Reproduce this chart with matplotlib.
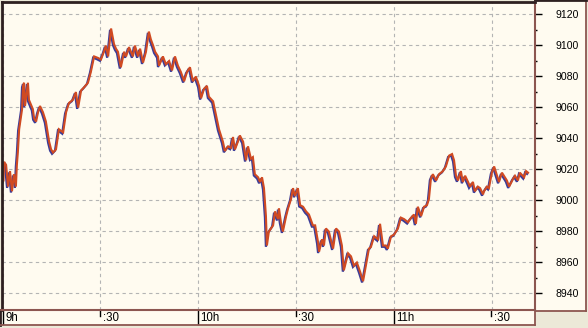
import matplotlib
matplotlib.use('Agg')
import matplotlib.pyplot as plt
from matplotlib.transforms import offset_copy

# ---- data (minutes after 9:00, price) ----
minutes = [0.0, 0.2, 0.8, 1.4, 2.0, 2.6, 3.2, 3.8, 4.1, 4.4, 4.8, 5.7, 6.0, 6.3, 6.6, 7.5, 7.8,
           9.0, 9.4, 10.0, 10.6, 11.2, 12.1, 13.0, 14.0, 14.6, 15.2, 16.1, 17.0, 18.3, 19.2,
           20.1, 21.3, 22.2, 22.9, 23.8, 24.7, 25.9, 26.8, 27.8, 29.0, 29.9, 30.8, 31.4, 32.1,
           33.0, 33.9, 34.5, 35.1, 36.0, 37.0, 37.6, 38.5, 39.7, 40.3, 41.3, 41.9, 42.8, 43.7,
           44.6, 45.2, 45.9, 46.5, 47.4, 47.7, 48.9, 49.8, 50.8, 51.7, 52.6, 53.5, 54.4, 55.4,
           56.3, 57.2, 58.1, 59.0, 60.0, 60.6, 61.5, 62.4, 63.0, 64.3, 65.2, 66.1, 67.3, 67.9,
           68.9, 69.8, 70.4, 71.0, 71.9, 72.5, 73.5, 74.4, 75.0, 75.9, 76.5, 77.1, 78.1, 78.7,
           79.3, 79.9, 80.5, 80.8, 81.4, 82.7, 83.3, 84.2, 84.5, 85.1, 85.7, 86.7, 87.3, 88.2,
           88.8, 89.4, 90.3, 91.0, 91.9, 92.8, 93.7, 94.9, 95.6, 96.5, 96.8, 97.7, 98.3, 98.9,
           99.8, 101.1, 102.0, 102.9, 103.8, 104.4, 105.7, 106.6, 107.5, 108.4, 109.4, 110.3,
           110.9, 111.5, 112.1, 112.7, 113.7, 114.9, 115.5, 116.4, 117.3, 117.9, 118.9, 119.8,
           121.0, 121.9, 122.9, 124.1, 124.7, 125.9, 126.5, 127.1, 128.1, 129.0, 129.9, 130.5,
           131.1, 131.7, 132.7, 133.6, 134.8, 135.7, 136.7, 137.6, 138.2, 138.8, 139.4, 140.3,
           140.9, 141.6, 142.5, 143.1, 144.0, 144.6, 145.5, 146.2, 147.1, 147.4, 148.3, 148.9,
           149.8, 150.5, 151.4, 152.0, 152.9, 153.5, 154.4, 155.1, 156.3, 156.9, 157.8, 158.4,
           159.7, 160.3, 160.9]
prices = [9012, 9024, 9022, 9008, 9018, 9005, 9016, 9008, 9022, 9030, 9045, 9058, 9073, 9075, 9060, 9075, 9064,
          9058, 9052, 9050, 9056, 9060, 9056, 9050, 9037, 9032, 9030, 9032, 9045, 9043, 9056,
          9062, 9064, 9069, 9059, 9070, 9072, 9075, 9082, 9092, 9091, 9090, 9095, 9099, 9092,
          9110, 9100, 9097, 9095, 9085, 9095, 9092, 9098, 9092, 9099, 9092, 9097, 9088, 9095,
          9108, 9103, 9099, 9095, 9092, 9086, 9092, 9087, 9089, 9083, 9092, 9086, 9082, 9076,
          9082, 9085, 9076, 9079, 9073, 9065, 9071, 9073, 9066, 9063, 9054, 9045, 9037, 9031,
          9034, 9033, 9040, 9032, 9037, 9041, 9037, 9025, 9034, 9026, 9027, 9016, 9014, 9011,
          9014, 9007, 8989, 8970, 8979, 8983, 8992, 8987, 8994, 8985, 8979, 8989, 8994, 9000,
          9007, 9002, 9007, 8996, 8995, 8992, 8990, 8983, 8983, 8972, 8966, 8974, 8970, 8981,
          8979, 8968, 8981, 8979, 8970, 8954, 8965, 8963, 8957, 8959, 8953, 8947,
          8954, 8961, 8968, 8969, 8976, 8974, 8984, 8970, 8970, 8968, 8976, 8977,
          8981, 8988, 8987, 8985, 8987, 8990, 8984, 8995, 8989, 8995, 8996, 9000,
          9013, 9016, 9012, 9016, 9018, 9021, 9028, 9029, 9025, 9015, 9012, 9018,
          9011, 9015, 9011, 9008, 9011, 9005, 9008, 9007, 9003, 9005, 9008, 9007,
          9017, 9021, 9015, 9011, 9017, 9015, 9012, 9008, 9013, 9015, 9012, 9017,
          9014, 9018, 9017]

y_ticks = [8940, 8960, 8980, 9000, 9020, 9040, 9060, 9080, 9100, 9120]
y_minor = [8950, 8970, 8990, 9010, 9030, 9050, 9070, 9090, 9110]
x_tick_pos = [0, 30, 60, 90, 120, 150]
x_tick_labels = ['9h', ':30', '10h', ':30', '11h', ':30']

# ---- style ----
W, H = 588, 328
CREAM = '#FFFBF0'
BROWN = '#8C5650'
DARK = '#2E2020'
BLUE = '#3C3C98'
RED = '#D04A22'
plt.rcParams['font.family'] = ['Liberation Sans', 'DejaVu Sans']

fig = plt.figure(figsize=(W / 100, H / 100), dpi=100)
fig.patch.set_facecolor('#ECE9D8')


def fx(px):
    return px / W


def fy(py):
    return 1 - py / H


def m_of(px):
    return (px - 2.5) * 30 / 97.8


def p_of(py):
    return 9120 - (py - 14.3) * 20 / 31


# right value panel
panel = fig.add_axes([fx(535), fy(311), fx(586) - fx(535), fy(0) - fy(311)])
panel.set_facecolor(CREAM)
panel.set_xticks([])
panel.set_yticks([])
for s in panel.spines.values():
    s.set_color(BROWN)
    s.set_linewidth(1.3)
panel.spines['top'].set_color(DARK)
panel.spines['top'].set_linewidth(2)

# time strip
strip = fig.add_axes([fx(0), fy(325), fx(535) - fx(0), fy(310) - fy(325)])
strip.set_facecolor(CREAM)
strip.set_xlim(m_of(0), m_of(535))
strip.set_ylim(0, 1)
strip.set_xticks([])
strip.set_yticks([])
for s in strip.spines.values():
    s.set_color(BROWN)
    s.set_linewidth(1.3)
strip.spines['left'].set_color(DARK)
strip.spines['left'].set_linewidth(2)
for pos, lab in zip(x_tick_pos, x_tick_labels):
    if lab.endswith('h'):
        strip.axvline(pos, 0, 1, color='black', lw=1)
    else:
        strip.axvline(pos, 0.62, 1, color='black', lw=1)
    strip.annotate(lab, (pos, 0.45), xycoords=('data', 'axes fraction'),
                   xytext=(1.8, 0), textcoords='offset points',
                   ha='left', va='center', fontsize=8.3, color='black')

# main plot
ax = fig.add_axes([fx(2), fy(310), fx(535) - fx(2), fy(2) - fy(310)])
ax.set_facecolor(CREAM)
ax.set_xlim(m_of(2), m_of(535))
ax.set_ylim(p_of(310), p_of(2))
ax.set_xticks(x_tick_pos)
ax.tick_params(axis='x', length=0, labelbottom=False)
ax.yaxis.tick_right()
ax.set_yticks(y_ticks)
ax.set_yticks(y_minor, minor=True)
ax.tick_params(axis='y', which='major', direction='out', length=5, width=1,
               color='black', pad=10, labelsize=7.6, labelcolor='black')
ax.tick_params(axis='y', which='minor', direction='out', length=1.6, width=1,
               color='black')
ax.grid(True, which='major', color='#B4B4B4', lw=0.8, linestyle=(0, (3, 3)))
ax.set_axisbelow(True)
for k in ['top', 'left']:
    ax.spines[k].set_color(DARK)
    ax.spines[k].set_linewidth(2)
for k in ['right', 'bottom']:
    ax.spines[k].set_color(BROWN)
    ax.spines[k].set_linewidth(1.5)

ax.plot(minutes, prices, color=BLUE, lw=1.6, solid_joinstyle='miter')
ax.plot(minutes, prices, color=RED, lw=1.5, solid_joinstyle='miter',
        transform=offset_copy(ax.transData, fig=fig, x=1, y=1.3, units='dots'))

fig.savefig('out.png', dpi=100, facecolor=fig.get_facecolor())
